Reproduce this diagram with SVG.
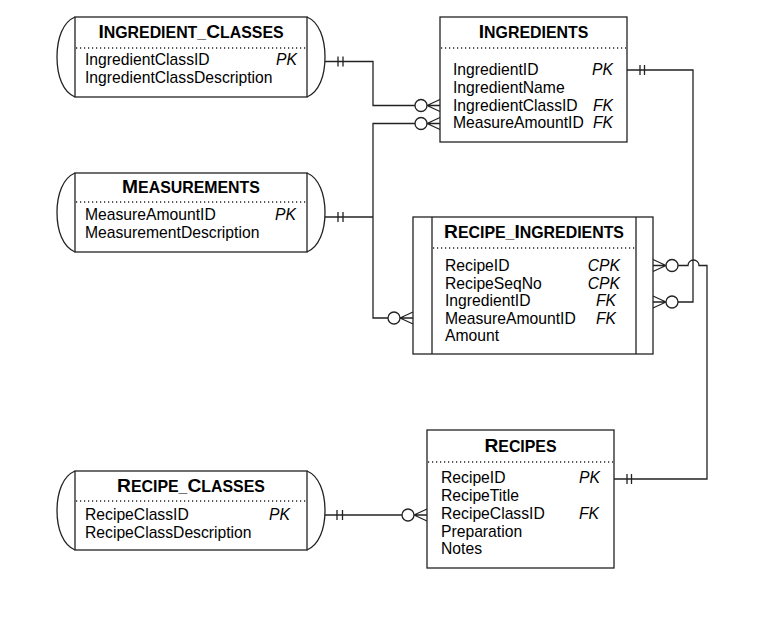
<svg xmlns="http://www.w3.org/2000/svg" width="769" height="622" viewBox="0 0 769 622">
<style>
.box{fill:#fff;stroke:#222;stroke-width:1.3}
.cap{fill:none;stroke:#222;stroke-width:1.3}
.dot{stroke:#222;stroke-width:1.4;stroke-dasharray:1.2 2.8;fill:none}
.ttl{font-family:"Liberation Sans",Arial,Helvetica,sans-serif;font-weight:bold;font-size:15.9px;fill:#000;text-anchor:middle}
.big{font-size:19.2px}
.f{font-family:"Liberation Sans",Arial,Helvetica,sans-serif;font-size:15.7px;fill:#000}
.k{font-family:"Liberation Sans",Arial,Helvetica,sans-serif;font-size:15.7px;font-style:italic;fill:#000;text-anchor:end}
.ln{fill:none;stroke:#222;stroke-width:1.3}
.cir{fill:#fff;stroke:#222;stroke-width:1.3}
</style>
<rect width="769" height="622" fill="#fff"/>

<g id="connectors">
  <path class="ln" d="M325,61.5 H373 V105.5 H427"/>
  <path class="ln" d="M338,56.5 V66.5 M343,56.5 V66.5"/>
  <circle class="cir" cx="421" cy="105.5" r="6"/>
  <path class="ln" d="M427,105.5 L440,99.5 M427,105.5 H440 M427,105.5 L440,111.5"/>
  <path class="ln" d="M325,217 H373"/>
  <path class="ln" d="M338,212 V222 M343,212 V222"/>
  <path class="ln" d="M427,123.5 H373 V318 H401"/>
  <circle class="cir" cx="421" cy="123.5" r="6"/>
  <path class="ln" d="M427,123.5 L440,117.5 M427,123.5 H440 M427,123.5 L440,129.5"/>
  <circle class="cir" cx="394" cy="318" r="6"/>
  <path class="ln" d="M400,318 L413,312 M400,318 H413 M400,318 L413,324"/>
  <path class="ln" d="M627,70 H693 V302 H678"/>
  <path class="ln" d="M640,65 V75 M644.5,65 V75"/>
  <circle class="cir" cx="672" cy="302" r="6"/>
  <path class="ln" d="M666,302 L653,296 M666,302 H653 M666,302 L653,308"/>
  <path class="ln" d="M678,265.5 H688 A5.5,5.5 0 0 1 699,265.5 H707 V479 H614"/>
  <path class="ln" d="M627,474 V484 M631.5,474 V484"/>
  <circle class="cir" cx="672" cy="265.5" r="6"/>
  <path class="ln" d="M666,265.5 L653,259.5 M666,265.5 H653 M666,265.5 L653,271.5"/>
  <path class="ln" d="M325,515 H402"/>
  <path class="ln" d="M337,510 V520 M342.5,510 V520"/>
  <circle class="cir" cx="408" cy="515" r="6"/>
  <path class="ln" d="M414,515 L427,509 M414,515 H427 M414,515 L427,521"/>
</g>

<g id="ingredient_classes">
  <rect class="box" x="75" y="17" width="232" height="80"/>
  <path class="cap" d="M75,17 C63,22 57,38 57,57 C57,76 63,92 75,97"/>
  <path class="cap" d="M307,17 C319,22 325,38 325,57 C325,76 319,92 307,97"/>
  <text class="ttl" x="191" y="38"><tspan class="big">I</tspan>NGREDIENT_<tspan class="big">C</tspan>LASSES</text>
  <line class="dot" x1="76" y1="48" x2="306" y2="48"/>
  <text class="f" x="85" y="65">IngredientClassID</text>
  <text class="k" x="297" y="65">PK</text>
  <text class="f" x="85" y="83">IngredientClassDescription</text>
</g>

<g id="ingredients">
  <rect class="box" x="440" y="17" width="187" height="125"/>
  <text class="ttl" x="533.5" y="38"><tspan class="big">I</tspan>NGREDIENTS</text>
  <line class="dot" x1="441" y1="48" x2="626" y2="48"/>
  <text class="f" x="453" y="75">IngredientID</text>
  <text class="k" x="613" y="75">PK</text>
  <text class="f" x="453" y="93">IngredientName</text>
  <text class="f" x="453" y="110.5">IngredientClassID</text>
  <text class="k" x="613" y="110.5">FK</text>
  <text class="f" x="453" y="128">MeasureAmountID</text>
  <text class="k" x="613" y="128">FK</text>
</g>

<g id="measurements">
  <rect class="box" x="75" y="173" width="232" height="79"/>
  <path class="cap" d="M75,173 C63,178 57,194 57,212.5 C57,231 63,247 75,252"/>
  <path class="cap" d="M307,173 C319,178 325,194 325,212.5 C325,231 319,247 307,252"/>
  <text class="ttl" x="191" y="193"><tspan class="big">M</tspan>EASUREMENTS</text>
  <line class="dot" x1="76" y1="202" x2="306" y2="202"/>
  <text class="f" x="85" y="220">MeasureAmountID</text>
  <text class="k" x="296" y="220">PK</text>
  <text class="f" x="85" y="238">MeasurementDescription</text>
</g>

<g id="recipe_ingredients">
  <rect class="box" x="413" y="217" width="240" height="137"/>
  <path class="ln" d="M432,217 V354 M636,217 V354"/>
  <text class="ttl" x="534" y="238"><tspan class="big">R</tspan>ECIPE_<tspan class="big">I</tspan>NGREDIENTS</text>
  <line class="dot" x1="433" y1="248" x2="635" y2="248"/>
  <text class="f" x="445" y="271">RecipeID</text>
  <text class="k" x="620" y="271">CPK</text>
  <text class="f" x="445" y="288.5">RecipeSeqNo</text>
  <text class="k" x="620" y="288.5">CPK</text>
  <text class="f" x="445" y="306">IngredientID</text>
  <text class="k" x="616" y="306">FK</text>
  <text class="f" x="445" y="323.5">MeasureAmountID</text>
  <text class="k" x="616" y="323.5">FK</text>
  <text class="f" x="445" y="341">Amount</text>
</g>

<g id="recipes">
  <rect class="box" x="427" y="430" width="187" height="138"/>
  <text class="ttl" x="520.5" y="452"><tspan class="big">R</tspan>ECIPES</text>
  <line class="dot" x1="428" y1="462" x2="613" y2="462"/>
  <text class="f" x="441" y="483">RecipeID</text>
  <text class="k" x="600" y="483">PK</text>
  <text class="f" x="441" y="501">RecipeTitle</text>
  <text class="f" x="441" y="519">RecipeClassID</text>
  <text class="k" x="599" y="519">FK</text>
  <text class="f" x="441" y="536.5">Preparation</text>
  <text class="f" x="441" y="554">Notes</text>
</g>

<g id="recipe_classes">
  <rect class="box" x="75" y="471" width="232" height="79"/>
  <path class="cap" d="M75,471 C63,476 57,492 57,510.5 C57,529 63,545 75,550"/>
  <path class="cap" d="M307,471 C319,476 325,492 325,510.5 C325,529 319,545 307,550"/>
  <text class="ttl" x="191" y="492"><tspan class="big">R</tspan>ECIPE_<tspan class="big">C</tspan>LASSES</text>
  <line class="dot" x1="76" y1="501" x2="306" y2="501"/>
  <text class="f" x="85" y="520">RecipeClassID</text>
  <text class="k" x="290" y="520">PK</text>
  <text class="f" x="85" y="537.5">RecipeClassDescription</text>
</g>
</svg>
